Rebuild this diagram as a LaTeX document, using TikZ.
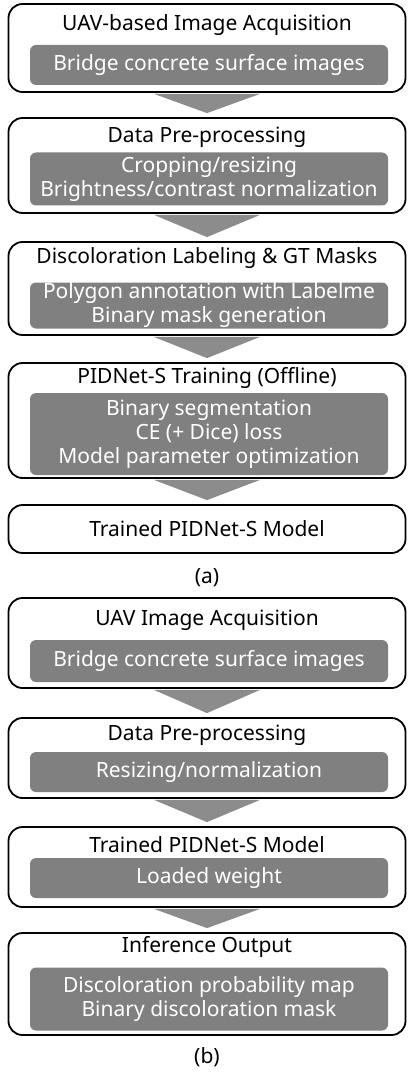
\documentclass[tikz,border=0pt]{standalone}
\usepackage{fontspec}
\setmainfont{Noto Sans}
\usepackage{xcolor}
\usetikzlibrary{positioning}

\definecolor{boxgray}{RGB}{128,128,128}
\definecolor{arrowgray}{RGB}{140,140,140}

\begin{document}
\begin{tikzpicture}[x=1pt, y=-1pt,
    outer/.style={rectangle, rounded corners=14pt, draw, line width=1.8pt, minimum width=397pt, inner sep=0pt},
    title/.style={inner sep=0pt, font=\fontsize{21}{24}\selectfont},
    inner/.style={rectangle, rounded corners=6pt, fill=boxgray, text=white, minimum width=358pt, inner sep=0pt, align=center, font=\fontsize{21}{24}\selectfont},
    flow/.style={fill=arrowgray}]

    \useasboundingbox (0,0) rectangle (407,1075);

    % (a) training
    \node[outer, minimum height=88pt] (acq) at (207,48) {};
    \node[title] (acqT) at (207,25) {UAV-based Image Acquisition};
    \node[inner, minimum height=40pt] (acqG) at (209,65) {Bridge concrete surface images};

    \node[outer, minimum height=95pt] (pre) at (207,165.5) {};
    \node[title] (preT) at (207,137) {Data Pre-processing};
    \node[inner, minimum height=53pt] (preG) at (209,179) {Cropping/resizing\\Brightness/contrast normalization};

    \node[outer, minimum height=93pt] (lab) at (207,288.5) {};
    \node[title] (labT) at (207,258) {Discoloration Labeling \& GT Masks};
    \node[inner, minimum height=46pt] (labG) at (209,305.5) {Polygon annotation with Labelme\\Binary mask generation};

    \node[outer, minimum height=115pt] (train) at (207,420.5) {};
    \node[title] (trainT) at (207,378) {PIDNet-S Training (Offline)};
    \node[inner, minimum height=82pt] (trainG) at (209,434) {Binary segmentation\\CE (+ Dice) loss\\Model parameter optimization};

    \node[outer, minimum height=48pt] (model) at (207,529) {};
    \node[title] (modelT) at (207,529) {Trained PIDNet-S Model};

    \node[title] (capA) at (207,578) {(a)};

    % (b) inference
    \node[outer, minimum height=90pt] (uav) at (207,643) {};
    \node[title] (uavT) at (207,620) {UAV Image Acquisition};
    \node[inner, minimum height=42pt] (uavG) at (209,661) {Bridge concrete surface images};

    \node[outer, minimum height=80pt] (prep) at (207,758) {};
    \node[title] (prepT) at (207,735) {Data Pre-processing};
    \node[inner, minimum height=40pt] (prepG) at (209,772) {Resizing/normalization};

    \node[outer, minimum height=80pt] (trained) at (207,867) {};
    \node[title] (trainedT) at (207,845) {Trained PIDNet-S Model};
    \node[inner, minimum height=40pt] (trainedG) at (209,878) {Loaded weight};

    \node[outer, minimum height=102pt] (infer) at (207,984) {};
    \node[title] (inferT) at (207,947) {Inference Output};
    \node[inner, minimum height=63pt] (inferG) at (209,999) {Discoloration probability map\\Binary discoloration mask};

    \node[title] (capB) at (207,1057) {(b)};

    % block arrows
    \foreach \a/\b in {acq/pre, pre/lab, lab/train, train/model, uav/prep, prep/trained, trained/infer}
        \fill[flow] ([xshift=-53pt, yshift=-1pt]\a.south) -- ([xshift=53pt, yshift=-1pt]\a.south) -- ([yshift=4pt]\b.north) -- cycle;

\end{tikzpicture}
\end{document}
